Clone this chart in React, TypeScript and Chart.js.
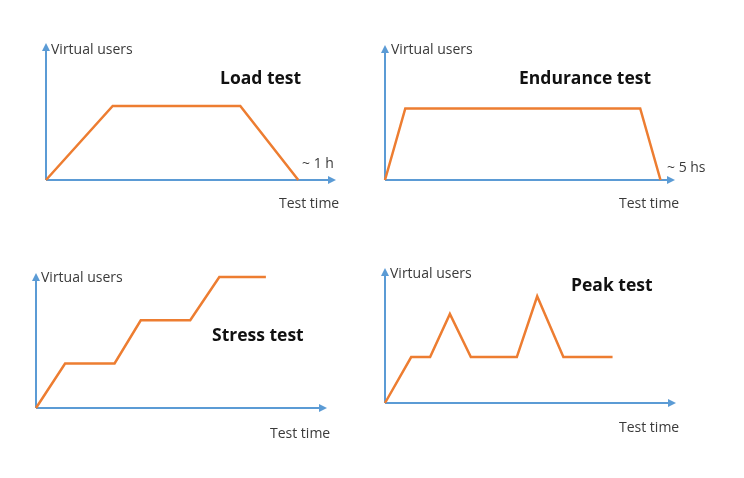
import React, { useEffect, useRef } from "react";
import { Chart, registerables } from "chart.js";

Chart.register(...registerables);

// ---- Data (abstract units: % of axis length) ----
const loadTime = [0, 23, 67, 87];
const loadUsers = [0, 54, 54, 0];

const enduranceTime = [0, 7, 88, 95];
const enduranceUsers = [0, 53, 53, 0];

const stressTime = [0, 10, 27, 36, 53, 63, 79];
const stressUsers = [0, 33, 33, 65, 65, 97, 97];

const peakTime = [0, 9, 15.5, 22.3, 29.5, 45.3, 52.3, 61.3, 78.2];
const peakUsers = [0, 34, 34, 66, 34, 34, 79, 34, 34];

const titles = ["Load test", "Endurance test", "Stress test", "Peak test"];
const yAxisLabel = "Virtual users";
const xAxisLabel = "Test time";
const durationLabels = ["~ 1 h", "~ 5 hs"];

const BLUE = "#5B9BD5";
const ORANGE = "#ED7D31";
const FONT = "'Open Sans', 'Segoe UI', sans-serif";

type Label = {
  text: string;
  x: number;
  y: number;
  bold?: boolean;
  size: number;
  color: string;
};

type PanelProps = {
  left: number;
  top: number;
  width: number;
  height: number;
  pad: { left: number; top: number; right: number; bottom: number };
  xs: number[];
  ys: number[];
  labels: Label[];
};

const arrowAxesPlugin = {
  id: "arrowAxes",
  beforeDatasetsDraw(chart: any) {
    const { ctx, chartArea } = chart;
    const { left, right, top, bottom } = chartArea;
    const head = 7;
    const half = 4;
    ctx.save();
    ctx.strokeStyle = BLUE;
    ctx.fillStyle = BLUE;
    ctx.lineWidth = 2;
    ctx.beginPath();
    ctx.moveTo(left, bottom);
    ctx.lineTo(left, top + head);
    ctx.moveTo(left, bottom);
    ctx.lineTo(right - head, bottom);
    ctx.stroke();
    ctx.beginPath();
    ctx.moveTo(left, top);
    ctx.lineTo(left - half, top + head + 1);
    ctx.lineTo(left + half, top + head + 1);
    ctx.closePath();
    ctx.fill();
    ctx.beginPath();
    ctx.moveTo(right, bottom);
    ctx.lineTo(right - head - 1, bottom - half);
    ctx.lineTo(right - head - 1, bottom + half);
    ctx.closePath();
    ctx.fill();
    ctx.restore();
  },
};

const labelsPlugin = {
  id: "panelLabels",
  afterDraw(chart: any, _args: any, opts: any) {
    const { ctx } = chart;
    const labels: Label[] = opts.labels || [];
    ctx.save();
    ctx.textBaseline = "middle";
    ctx.textAlign = "left";
    for (const l of labels) {
      ctx.font = `${l.bold ? "bold " : ""}${l.size}px ${FONT}`;
      ctx.fillStyle = l.color;
      ctx.fillText(l.text, l.x, l.y + 1.5);
    }
    ctx.restore();
  },
};

function Panel(props: PanelProps) {
  const ref = useRef<HTMLCanvasElement | null>(null);
  useEffect(() => {
    if (!ref.current) return;
    const chart = new Chart(ref.current, {
      type: "line",
      data: {
        datasets: [
          {
            data: props.xs.map((x, i) => ({ x, y: props.ys[i] })),
            borderColor: ORANGE,
            borderWidth: 2.5,
            pointRadius: 0,
            tension: 0,
            fill: false,
            clip: false as any,
          },
        ],
      },
      options: {
        animation: false,
        responsive: false,
        devicePixelRatio: 1,
        layout: { padding: props.pad },
        scales: {
          x: { type: "linear", min: 0, max: 100, display: false },
          y: { type: "linear", min: 0, max: 100, display: false },
        },
        plugins: {
          legend: { display: false },
          tooltip: { enabled: false },
          panelLabels: { labels: props.labels },
        } as any,
      },
      plugins: [arrowAxesPlugin, labelsPlugin],
    });
    return () => chart.destroy();
  }, []);
  return (
    <canvas
      ref={ref}
      width={props.width}
      height={props.height}
      style={{ position: "absolute", left: props.left, top: props.top, width: props.width, height: props.height }}
    />
  );
}

const GRAY = "#3a3a3a";
const DARK = "#111111";
const SMALL = 14;
const BIG = 17.5;

export default function App() {
  return (
    <div style={{ position: "absolute", left: 0, top: 0, width: 744, height: 478, background: "#fff", overflow: "hidden" }}>
      <Panel
        left={0}
        top={0}
        width={372}
        height={239}
        pad={{ left: 46, top: 43, right: 36, bottom: 59 }}
        xs={loadTime}
        ys={loadUsers}
        labels={[
          { text: yAxisLabel, x: 51, y: 49, size: SMALL, color: GRAY },
          { text: titles[0], x: 220, y: 78, size: BIG, bold: true, color: DARK },
          { text: durationLabels[0], x: 302, y: 163, size: SMALL, color: GRAY },
          { text: xAxisLabel, x: 279, y: 203, size: SMALL, color: GRAY },
        ]}
      />
      <Panel
        left={372}
        top={0}
        width={372}
        height={239}
        pad={{ left: 13, top: 45, right: 69, bottom: 59 }}
        xs={enduranceTime}
        ys={enduranceUsers}
        labels={[
          { text: yAxisLabel, x: 19, y: 49, size: SMALL, color: GRAY },
          { text: titles[1], x: 147, y: 78, size: BIG, bold: true, color: DARK },
          { text: durationLabels[1], x: 295, y: 167, size: SMALL, color: GRAY },
          { text: xAxisLabel, x: 247, y: 203, size: SMALL, color: GRAY },
        ]}
      />
      <Panel
        left={0}
        top={239}
        width={372}
        height={239}
        pad={{ left: 36, top: 34, right: 45, bottom: 70 }}
        xs={stressTime}
        ys={stressUsers}
        labels={[
          { text: yAxisLabel, x: 41, y: 38, size: SMALL, color: GRAY },
          { text: titles[2], x: 212, y: 96, size: BIG, bold: true, color: DARK },
          { text: xAxisLabel, x: 270, y: 194, size: SMALL, color: GRAY },
        ]}
      />
      <Panel
        left={372}
        top={239}
        width={372}
        height={239}
        pad={{ left: 13, top: 29, right: 68, bottom: 75 }}
        xs={peakTime}
        ys={peakUsers}
        labels={[
          { text: yAxisLabel, x: 18, y: 34, size: SMALL, color: GRAY },
          { text: titles[3], x: 199, y: 46, size: BIG, bold: true, color: DARK },
          { text: xAxisLabel, x: 247, y: 188, size: SMALL, color: GRAY },
        ]}
      />
    </div>
  );
}
